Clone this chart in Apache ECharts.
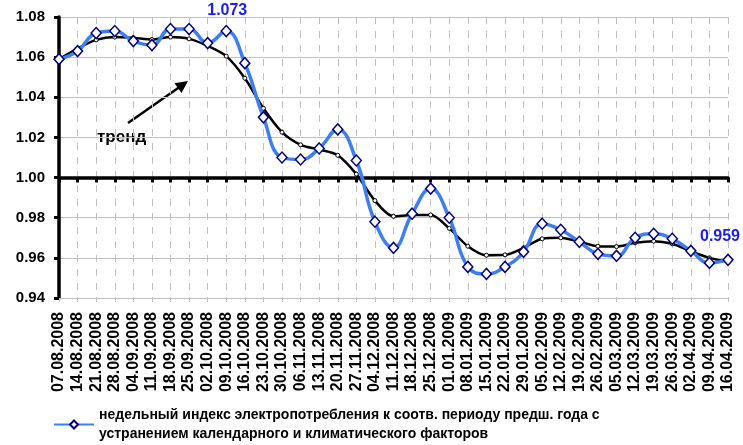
<!DOCTYPE html>
<html>
<head>
    <meta charset="utf-8">
    <title>Недельный индекс электропотребления</title>
    <script src="https://cdn.jsdelivr.net/npm/echarts@6/dist/echarts.min.js"></script>
    <style>
        body { margin: 0; padding: 0; background: #fff; }
    </style>
</head>
<body>
<div id="main" style="width: 743px;height:445px;"></div>
<script type="text/javascript">
    // даты недель
    let weeks = ['07.08.2008', '14.08.2008', '21.08.2008', '28.08.2008', '04.09.2008', '11.09.2008',
        '18.09.2008', '25.09.2008', '02.10.2008', '09.10.2008', '16.10.2008', '23.10.2008',
        '30.10.2008', '06.11.2008', '13.11.2008', '20.11.2008', '27.11.2008', '04.12.2008',
        '11.12.2008', '18.12.2008', '25.12.2008', '01.01.2009', '08.01.2009', '15.01.2009',
        '22.01.2009', '29.01.2009', '05.02.2009', '12.02.2009', '19.02.2009', '26.02.2009',
        '05.03.2009', '12.03.2009', '19.03.2009', '26.03.2009', '02.04.2009', '09.04.2009',
        '16.04.2009']
    // недельный индекс
    let indexValues = [1.059, 1.063, 1.072, 1.073, 1.068, 1.066, 1.074, 1.074, 1.067, 1.073,
        1.057, 1.030, 1.010, 1.009, 1.0145, 1.024, 1.0085, 0.978, 0.965, 0.982, 0.9945, 0.980,
        0.9555, 0.952, 0.9555, 0.963, 0.977, 0.974, 0.968, 0.962, 0.961, 0.970, 0.972, 0.9695,
        0.9635, 0.9575, 0.959]
    // тренд
    let trendValues = [1.059, 1.0643, 1.0686, 1.070, 1.0696, 1.0688, 1.070, 1.0691, 1.0656,
        1.0605, 1.0495, 1.0345, 1.0226, 1.0163, 1.014, 1.0111, 1.0017, 0.9885, 0.9807, 0.9814,
        0.9814, 0.9747, 0.9658, 0.9613, 0.9615, 0.965, 0.9695, 0.970, 0.968, 0.9658, 0.9656,
        0.9675, 0.9683, 0.967, 0.9633, 0.960, 0.958]
    let yTicks = [0.94, 0.96, 0.98, 1.00, 1.02, 1.04, 1.06, 1.08]
    let seriesName = 'недельный индекс электропотребления к соотв. периоду предш. года с\nустранением календарного и климатического факторов'

    let font = 'Arial, "Liberation Sans", sans-serif'
    let blue = '#3d7ff2'

    // подписи на максимуме и последней точке
    let indexData = indexValues.map((v, i) => {
        if (i === 9) {
            return { value: v, label: { show: true, formatter: '1.073', offset: [1, 0] } }
        }
        if (i === indexValues.length - 1) {
            return { value: v, label: { show: true, formatter: '0.959', offset: [-8, -3] } }
        }
        return v
    })

    let myChart = echarts.init(document.getElementById('main'))
    let option = {
        animation: false,
        grid: { left: 59, right: 15, top: 17, bottom: 147 },
        legend: {
            data: [seriesName],
            left: 48,
            top: 391,
            itemWidth: 40,
            itemHeight: 10,
            itemGap: 0,
            textStyle: {
                fontFamily: font,
                fontWeight: 'bold',
                fontSize: 14,
                color: '#000',
                lineHeight: 19,
                padding: [19, 0, 0, 0]
            }
        },
        xAxis: [
            {
                type: 'category',
                data: weeks,
                boundaryGap: false,
                axisLine: { lineStyle: { color: '#c0c0c0', width: 1 } },
                axisTick: { show: true, length: 4, lineStyle: { color: '#c0c0c0' } },
                axisLabel: {
                    rotate: 90,
                    interval: 0,
                    margin: 14,
                    fontFamily: font,
                    fontWeight: 'bold',
                    fontSize: 16,
                    color: '#000'
                },
                splitLine: {
                    show: true,
                    interval: 0,
                    lineStyle: { color: '#c0c0c0', type: [7, 7], width: 1 }
                }
            },
            {
                // линия 1.00
                type: 'category',
                data: weeks,
                boundaryGap: false,
                position: 'bottom',
                offset: -120.4,
                axisLine: { lineStyle: { color: '#000', width: 3.5 } },
                axisTick: { show: true, length: 5, interval: 0, lineStyle: { color: '#000', width: 3 } },
                axisLabel: { show: false },
                splitLine: { show: false }
            }
        ],
        yAxis: {
            type: 'value',
            min: yTicks[0],
            max: yTicks[yTicks.length - 1],
            interval: 0.02,
            axisLine: { show: true, lineStyle: { color: '#000', width: 3.5 } },
            axisTick: { show: true, length: 5, lineStyle: { color: '#000', width: 3 } },
            axisLabel: {
                margin: 14,
                fontFamily: font,
                fontWeight: 'bold',
                fontSize: 15,
                color: '#000',
                formatter: (v) => v.toFixed(2)
            },
            splitLine: { lineStyle: { color: '#c0c0c0', width: 1 } }
        },
        series: [
            {
                name: 'тренд',
                type: 'line',
                data: trendValues,
                smooth: 0.3,
                symbol: 'circle',
                symbolSize: 4,
                showAllSymbol: true,
                lineStyle: { color: '#000', width: 2.5 },
                itemStyle: { color: '#fff', borderColor: '#000', borderWidth: 1 },
                z: 3
            },
            {
                name: seriesName,
                type: 'line',
                data: indexData,
                smooth: 0.45,
                symbol: 'diamond',
                symbolSize: [10, 11],
                showAllSymbol: true,
                lineStyle: { color: blue, width: 3.5 },
                itemStyle: { color: '#fff', borderColor: '#000080', borderWidth: 1.5 },
                label: {
                    show: false,
                    position: 'top',
                    distance: 6,
                    fontFamily: font,
                    fontWeight: 'bold',
                    fontSize: 16,
                    color: '#1a1aff'
                },
                z: 4
            }
        ],
        graphic: [
            {
                type: 'text',
                left: 97,
                top: 129,
                style: {
                    text: 'тренд',
                    font: 'bold 17px Arial, "Liberation Sans", sans-serif',
                    fill: '#000'
                }
            },
            {
                type: 'line',
                shape: { x1: 128, y1: 123, x2: 181, y2: 86 },
                style: { stroke: '#000', lineWidth: 2.5 }
            },
            {
                type: 'polygon',
                shape: { points: [[188, 81], [181.5, 93], [174.5, 83.3]] },
                style: { fill: '#000' }
            }
        ]
    }
    myChart.setOption(option)
</script>
</body>
</html>
